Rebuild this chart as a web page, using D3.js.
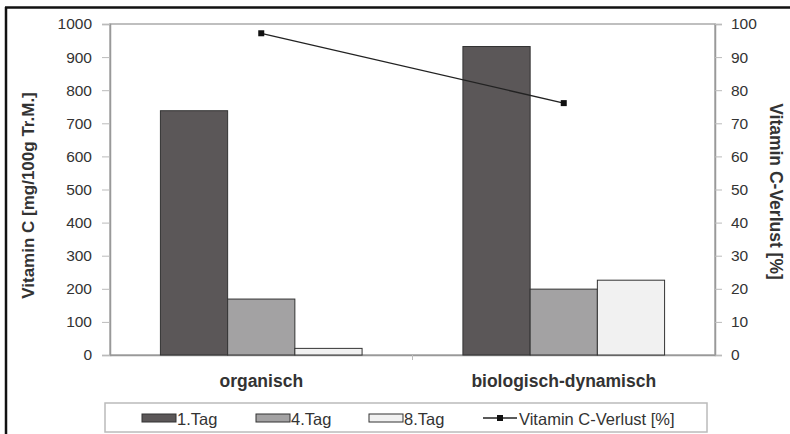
<!DOCTYPE html>
<html>
<head>
<meta charset="utf-8">
<script src="https://cdn.jsdelivr.net/npm/d3@7"></script>
<style>
  body { margin: 0; background: #fff; }
  svg { display: block; font-family: 'Liberation Sans', Arial, sans-serif; }
</style>
</head>
<body>
<div id="chart"></div>
<script>
// data
var categories = ['organisch', 'biologisch-dynamisch'];
var seriesNames = ['1.Tag', '4.Tag', '8.Tag'];
var tag1 = [738, 932];
var tag4 = [169, 199];
var tag8 = [20, 226];
var verlust = [97.2, 76.1];
var leftTicks = [0, 100, 200, 300, 400, 500, 600, 700, 800, 900, 1000];
var rightTicks = [0, 10, 20, 30, 40, 50, 60, 70, 80, 90, 100];
var lineName = 'Vitamin C-Verlust [%]';

var W = 790, H = 434;
var margin = {top: 24, right: 75, bottom: 79, left: 110};
var width = W - margin.left - margin.right,
    height = H - margin.top - margin.bottom;

var fills = ['#5b5758', '#a3a2a3', '#f1f1f1'];
var values = [tag1, tag4, tag8];

var svg = d3.select('#chart').append('svg')
    .attr('width', W)
    .attr('height', H);

// outer frame (left and top black edges)
svg.append('line').attr('x1', 6).attr('x2', 6).attr('y1', 7).attr('y2', H)
    .attr('stroke', '#111').attr('stroke-width', 2.5);
svg.append('line').attr('x1', 5).attr('x2', W).attr('y1', 7.5).attr('y2', 7.5)
    .attr('stroke', '#111').attr('stroke-width', 2.5);

var g = svg.append('g')
    .attr('transform', 'translate(' + margin.left + ',' + margin.top + ')');

var x0 = d3.scaleBand().domain(categories).range([0, width]).paddingInner(0).paddingOuter(0);
var x1 = d3.scaleBand().domain(seriesNames)
    .range([x0.bandwidth() / 6, x0.bandwidth() * 5 / 6]);
var y = d3.scaleLinear().domain([0, 1000]).range([height, 0]);
var y2 = d3.scaleLinear().domain([0, 100]).range([height, 0]);

// plot frame
g.append('rect')
    .attr('width', width).attr('height', height)
    .attr('fill', 'none').attr('stroke', '#aaa').attr('stroke-width', 1.5);

// left axis
var yAxis = d3.axisLeft(y).tickValues(leftTicks).tickFormat(d3.format('d')).tickSize(8).tickPadding(10);
var ya = g.append('g').attr('class', 'y axis').call(yAxis);
ya.select('.domain').attr('stroke', '#999').attr('stroke-width', 1.5);
ya.selectAll('.tick line').attr('stroke', '#bbb');
ya.selectAll('.tick text').attr('fill', '#333').attr('font-size', '15.5px');

// right axis
var yAxis2 = d3.axisRight(y2).tickValues(rightTicks).tickSize(7).tickPadding(9);
var yb = g.append('g').attr('transform', 'translate(' + width + ',0)').call(yAxis2);
yb.select('.domain').attr('stroke', '#999').attr('stroke-width', 1.5);
yb.selectAll('.tick line').attr('stroke', '#bbb');
yb.selectAll('.tick text').attr('fill', '#333').attr('font-size', '15.5px');

// x axis
var xAxis = d3.axisBottom(x0).tickSize(0).tickPadding(20);
var xa = g.append('g').attr('transform', 'translate(0,' + height + ')').call(xAxis);
xa.select('.domain').attr('stroke', '#999').attr('stroke-width', 1.5);
xa.selectAll('.tick text').attr('fill', '#333').attr('font-size', '17.5px').attr('font-weight', 'bold');
// separator tick between categories
xa.append('line')
    .attr('x1', x0('biologisch-dynamisch')).attr('x2', x0('biologisch-dynamisch'))
    .attr('y1', 0).attr('y2', 5).attr('stroke', '#bbb');

// bars
seriesNames.forEach(function(s, si) {
    g.selectAll('.bar-' + si)
        .data(categories)
        .enter().append('rect')
        .attr('class', 'bar-' + si)
        .attr('x', function(d) { return x0(d) + x1(s); })
        .attr('width', x1.bandwidth())
        .attr('y', function(d, i) { return y(values[si][i]); })
        .attr('height', function(d, i) { return height - y(values[si][i]); })
        .attr('fill', fills[si])
        .attr('stroke', '#333')
        .attr('stroke-width', 1);
});

// line
var line = d3.line()
    .x(function(d, i) { return x0(categories[i]) + x0.bandwidth() / 2; })
    .y(function(d) { return y2(d); });
g.append('path').datum(verlust)
    .attr('d', line).attr('fill', 'none').attr('stroke', '#222').attr('stroke-width', 1.3);
g.selectAll('.pt').data(verlust).enter().append('rect')
    .attr('x', function(d, i) { return x0(categories[i]) + x0.bandwidth() / 2 - 3; })
    .attr('y', function(d) { return y2(d) - 3; })
    .attr('width', 6).attr('height', 6).attr('fill', '#111');

// axis titles
svg.append('text')
    .attr('transform', 'translate(34,' + (margin.top + height / 2 + 6) + ') rotate(-90)')
    .attr('text-anchor', 'middle').attr('font-size', '17px').attr('font-weight', 'bold')
    .attr('fill', '#333').text('Vitamin C [mg/100g Tr.M.]');
svg.append('text')
    .attr('transform', 'translate(770,' + (margin.top + height / 2 + 2) + ') rotate(90)')
    .attr('text-anchor', 'middle').attr('font-size', '17.5px').attr('font-weight', 'bold')
    .attr('fill', '#333').text('Vitamin C-Verlust [%]');

// legend
var lg = svg.append('g').attr('transform', 'translate(105,403)');
lg.append('rect').attr('width', 602).attr('height', 29)
    .attr('fill', '#fff').attr('stroke', '#bbb').attr('stroke-width', 1.5);
var legX = [37, 151, 264];
seriesNames.forEach(function(s, si) {
    lg.append('rect').attr('x', legX[si]).attr('y', 11).attr('width', 34).attr('height', 8)
        .attr('fill', fills[si]).attr('stroke', '#333');
    lg.append('text').attr('x', legX[si] + 35).attr('y', 22)
        .attr('font-size', '16.5px').attr('fill', '#333').text(s);
});
lg.append('line').attr('x1', 378).attr('x2', 412).attr('y1', 15).attr('y2', 15)
    .attr('stroke', '#222').attr('stroke-width', 1.3);
lg.append('rect').attr('x', 392).attr('y', 12).attr('width', 6).attr('height', 6).attr('fill', '#111');
lg.append('text').attr('x', 414).attr('y', 22)
    .attr('font-size', '16.5px').attr('fill', '#333').text(lineName);
</script>
</body>
</html>
